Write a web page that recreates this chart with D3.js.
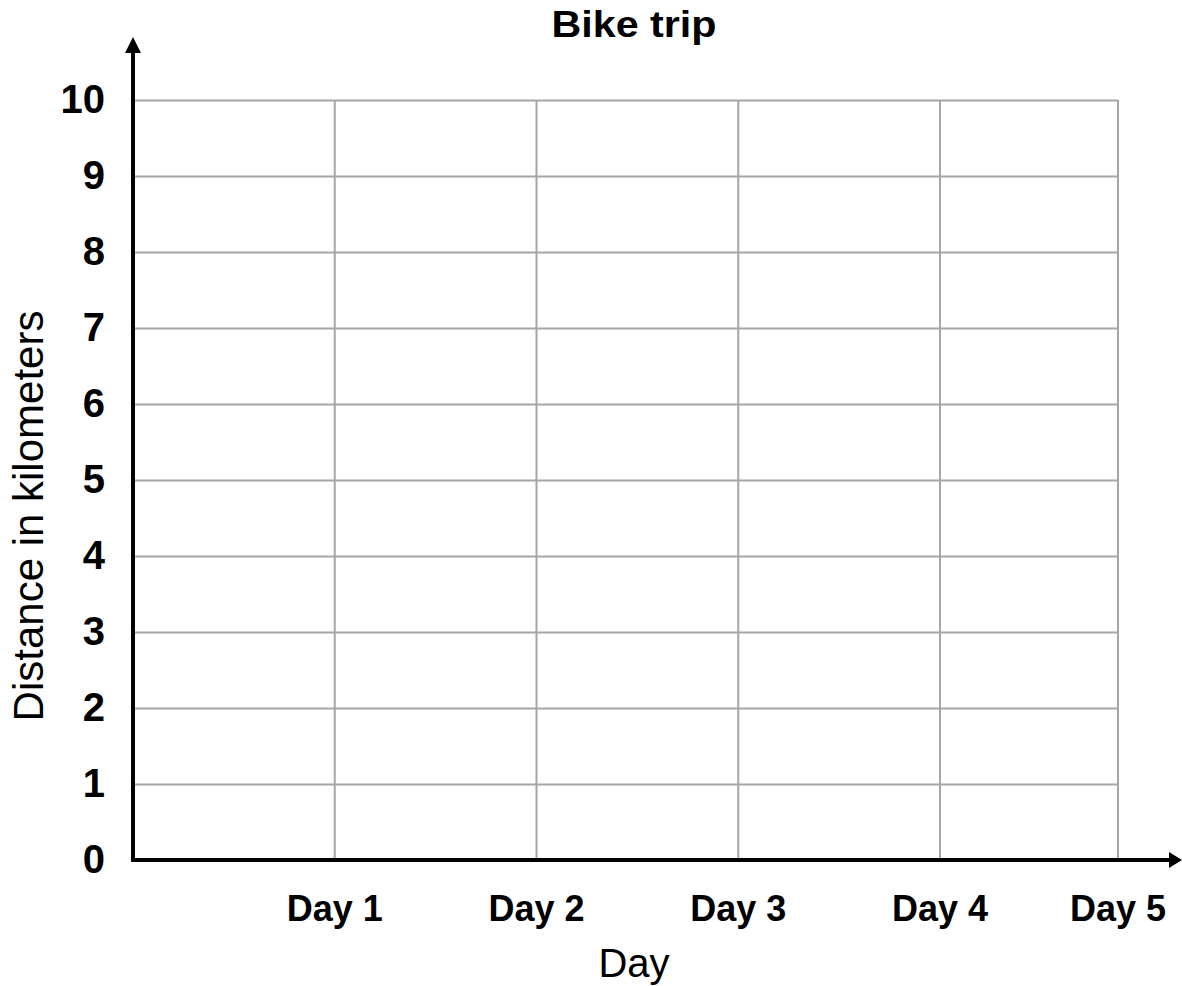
<!DOCTYPE html>
<html>
<head>
<meta charset="utf-8">
<script src="https://cdn.jsdelivr.net/npm/d3@7"></script>
<style>
  html, body { margin: 0; padding: 0; background: #fff; }
  svg { display: block; font-family: "Liberation Sans", Arial, sans-serif; }
</style>
</head>
<body>
<div id="chart"></div>
<script>
// 資料
const title = "Bike trip";
const days = ["Day 1", "Day 2", "Day 3", "Day 4", "Day 5"];
const distanceTicks = [0, 1, 2, 3, 4, 5, 6, 7, 8, 9, 10];
const xTitle = "Day";
const yTitle = "Distance in kilometers";

const width = 1182, height = 986;
const margin = {top: 100, right: 64, bottom: 125, left: 133};
const plotRight = width - margin.right;   // 1118

const svg = d3.select("#chart").append("svg")
    .attr("width", width)
    .attr("height", height)
    .attr("viewBox", [0, 0, width, height]);

const y = d3.scaleLinear()
    .domain([0, 10])
    .range([height - margin.bottom - 1, margin.top]);

// Day 1..4 evenly spaced, last day sits on the right edge of the grid
const x = d3.scaleLinear()
    .domain([0, 4])
    .range([margin.left, 940]);
const dayX = (d, i) => i === days.length - 1 ? plotRight : x(i + 1);

// horizontal grid + y labels
const yAxis = g => g.attr("transform", `translate(${margin.left},0)`)
    .call(d3.axisLeft(y).tickValues(distanceTicks).tickSize(-(plotRight - margin.left)).tickPadding(28))
    .call(g => g.select(".domain").remove())
    .call(g => g.selectAll(".tick line").attr("stroke", "#a6a6a6").attr("stroke-width", 2))
    .call(g => g.selectAll(".tick text")
        .attr("fill", "#000")
        .attr("font-size", 40)
        .attr("font-weight", "bold")
        .attr("font-family", "'Liberation Sans', Arial, sans-serif"));

svg.append("g").call(yAxis);

// vertical grid
svg.append("g")
    .selectAll("line")
    .data(days)
    .join("line")
    .attr("x1", dayX)
    .attr("x2", dayX)
    .attr("y1", y(10))
    .attr("y2", y(0))
    .attr("stroke", "#a6a6a6")
    .attr("stroke-width", 2);

// day labels
svg.append("g")
    .selectAll("text")
    .data(days)
    .join("text")
    .attr("x", dayX)
    .attr("y", 921)
    .attr("text-anchor", "middle")
    .attr("font-size", 36)
    .attr("font-weight", "bold")
    .text(d => d);

// axes with arrows
const axisY = y(0);
svg.append("line")
    .attr("x1", margin.left).attr("x2", margin.left)
    .attr("y1", axisY + 2).attr("y2", 50)
    .attr("stroke", "#000").attr("stroke-width", 4);
svg.append("path")
    .attr("d", `M${margin.left},37 L${margin.left - 8},53 L${margin.left + 8},53 Z`)
    .attr("fill", "#000");

svg.append("line")
    .attr("x1", margin.left - 2).attr("x2", 1172)
    .attr("y1", axisY).attr("y2", axisY)
    .attr("stroke", "#000").attr("stroke-width", 4);
svg.append("path")
    .attr("d", `M1182,${axisY} L1169,${axisY - 8} L1169,${axisY + 8} Z`)
    .attr("fill", "#000");

// titles
svg.append("text")
    .attr("x", 634)
    .attr("y", 37)
    .attr("text-anchor", "middle")
    .attr("font-size", 36)
    .attr("font-weight", "bold")
    .attr("textLength", 165)
    .attr("lengthAdjust", "spacingAndGlyphs")
    .text(title);

svg.append("text")
    .attr("x", 634)
    .attr("y", 977)
    .attr("text-anchor", "middle")
    .attr("font-size", 40)
    .text(xTitle);

svg.append("text")
    .attr("transform", "translate(43,516) rotate(-90)")
    .attr("text-anchor", "middle")
    .attr("font-size", 42)
    .text(yTitle);
</script>
</body>
</html>
